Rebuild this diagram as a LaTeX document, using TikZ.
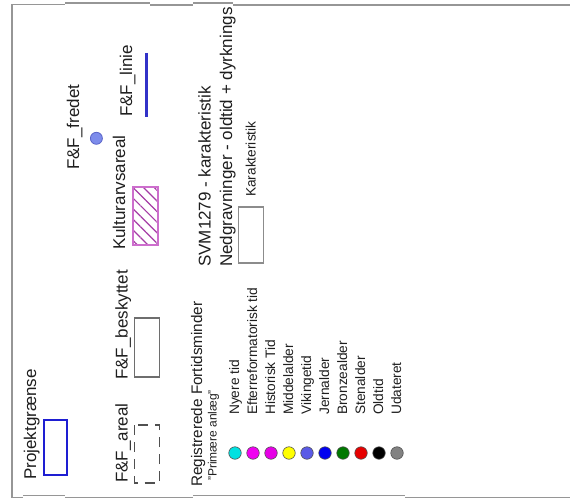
\documentclass[tikz,border=0pt]{standalone}
\usepackage{fontspec}
\setmainfont{Liberation Sans}
\usetikzlibrary{patterns.meta}
\definecolor{framec}{RGB}{150,150,150}
\definecolor{projc}{RGB}{30,30,210}
\definecolor{dashc}{RGB}{80,80,80}
\definecolor{boxc}{RGB}{110,110,110}
\definecolor{boxc2}{RGB}{140,140,140}
\definecolor{hatchb}{RGB}{205,110,205}
\definecolor{hatchl}{RGB}{165,60,165}
\definecolor{fredfill}{RGB}{125,140,235}
\definecolor{frededge}{RGB}{90,100,200}
\definecolor{liniec}{RGB}{50,50,200}
\definecolor{txtc}{RGB}{30,30,30}
\definecolor{dotedge}{RGB}{80,80,80}
\definecolor{dcyan}{RGB}{0,225,225}
\definecolor{dmag}{RGB}{240,0,240}
\definecolor{dmagb}{RGB}{230,0,230}
\definecolor{dyel}{RGB}{255,255,0}
\definecolor{dslate}{RGB}{90,90,230}
\definecolor{dblue}{RGB}{0,0,240}
\definecolor{dgreen}{RGB}{0,120,0}
\definecolor{dred}{RGB}{230,0,0}
\definecolor{dblack}{RGB}{0,0,0}
\definecolor{dgray}{RGB}{130,130,130}
\begin{document}
\begin{tikzpicture}[x=1pt,y=1pt,
  framestyle/.style={draw=framec, line width=1.5pt},
  lbl/.style={anchor=base west, rotate=90, inner sep=0pt, text=txtc, font=\fontsize{17}{20}\selectfont},
  small/.style={anchor=base west, rotate=90, inner sep=0pt, text=txtc, font=\fontsize{13.7}{16}\selectfont},
  regstyle/.style={anchor=base west, rotate=90, inner sep=0pt, text=txtc, font=\fontsize{15.3}{18}\selectfont},
  regstyleb/.style={anchor=base west, rotate=90, inner sep=0pt, text=txtc, font=\fontsize{12}{14}\selectfont},
  dotstyle/.style={circle, minimum size=12.5pt, inner sep=0pt, draw=dotedge, line width=0.6pt}]
\useasboundingbox (0,0) rectangle (570,-500);
% frame
\draw[framestyle] (12,-497.5) -- (12,-4.3) -- (65,-4.3);
\draw[framestyle] (65,-3) -- (150,-3);
\draw[framestyle] (150,-5) -- (193,-5);
\draw[framestyle] (193,-3) -- (233,-3);
\draw[framestyle] (233,-5) -- (570,-5);
\draw[framestyle] (12,-497.5) -- (23,-497.5);
\draw[framestyle] (23,-495.5) -- (65,-495.5);
\draw[framestyle] (65,-497.5) -- (193,-497.5);
\draw[framestyle] (193,-495.5) -- (405,-495.5);
\draw[framestyle] (405,-497.5) -- (570,-497.5);
% Projektgraense
\node[lbl] (projekt) at (36,-480) {Projektgrænse};
\draw[draw=projc, line width=1.8pt] (44,-420) rectangle (67,-475);
% F&F_areal
\node[lbl] (areal) at (127.5,-483) {F\&F\_areal};
\draw[draw=dashc, line width=1.2pt, dash pattern=on 10pt off 7pt] (134.5,-425) rectangle (159.5,-483);
% F&F_beskyttet
\node[lbl] (beskyttet) at (127.5,-380) {F\&F\_beskyttet};
\draw[draw=boxc, line width=1.2pt] (134.5,-318) rectangle (159.5,-377);
% Kulturarvsareal
\node[lbl] (kultur) at (125,-250) {Kulturarvsareal};
\draw[draw=hatchb, line width=1.1pt, pattern={Lines[angle=-45,distance=7.5pt,line width=1.2pt]}, pattern color=hatchl] (133,-187) rectangle (158,-245);
% F&F_fredet
\node[lbl] (fredet) at (79,-170) {F\&F\_fredet};
\node[circle, minimum size=12pt, inner sep=0pt, fill=fredfill, draw=frededge, line width=0.8pt] (fredsym) at (96.4,-138.3) {};
% F&F_linie
\node[lbl] (linie) at (132,-117) {F\&F\_linie};
\coordinate (lineA) at (146.5,-53);
\coordinate (lineB) at (146.5,-117);
\draw[draw=liniec, line width=2.3pt] (lineA) -- (lineB);
% SVM1279
\node[lbl] (svm) at (210.5,-267) {SVM1279 - karakteristik};
\node[lbl] (nedgrav) at (232,-267) {Nedgravninger - oldtid + dyrknings};
\node[small] (karakt) at (255.5,-197) {Karakteristik};
\draw[draw=boxc2, line width=1.1pt] (238.5,-207) rectangle (263.5,-263);
% Registrerede fortidsminder
\node[regstyle] (reg1) at (202,-487) {Registrerede Fortidsminder};
\node[regstyleb] (reg2) at (216.5,-481) {"Primære anlæg"};
\foreach \i/\c/\t in {0/dcyan/Nyere tid, 1/dmag/Efterreformatorisk tid, 2/dmagb/Historisk Tid, 3/dyel/Middelalder, 4/dslate/Vikingetid, 5/dblue/Jernalder, 6/dgreen/Bronzealder, 7/dred/Stenalder, 8/dblack/Oldtid, 9/dgray/Udateret} {
  \node[dotstyle, fill=\c] (dot\i) at ({235+18*\i},-453) {};
  \node[small] (per\i) at ({239+18*\i},-415) {\t};
}
\end{tikzpicture}
\end{document}
